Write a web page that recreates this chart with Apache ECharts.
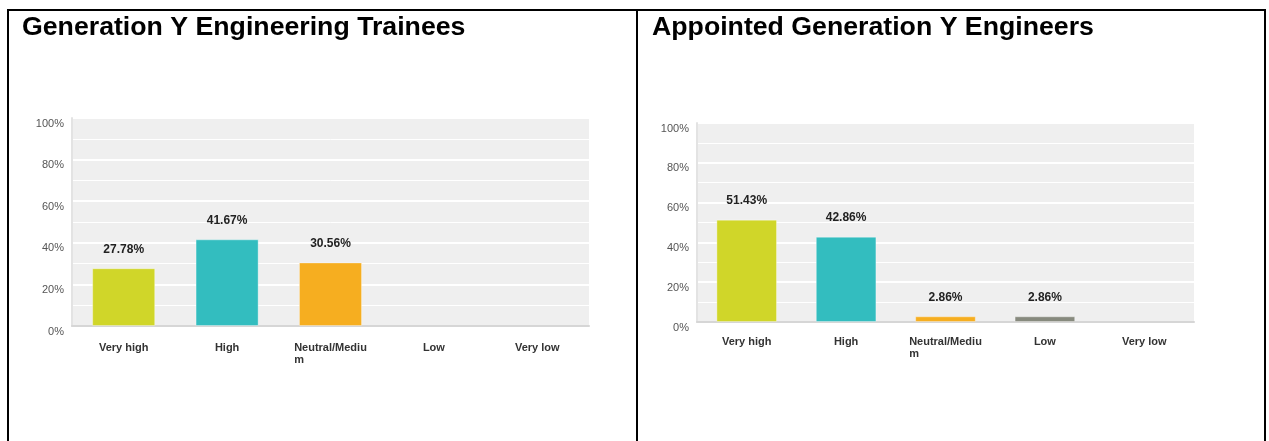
<!DOCTYPE html>
<html>
<head>
<meta charset="utf-8">
<script src="https://cdn.jsdelivr.net/npm/echarts@6/dist/echarts.min.js"></script>
<style>
  html, body { margin: 0; padding: 0; background: #fff; }
  #chart { width: 1269px; height: 441px; }
</style>
</head>
<body>
<div id="chart"></div>
<script>
// Survey response shares (%) per rating
const categories = ['Very high', 'High', 'Neutral/Mediu\nm', 'Low', 'Very low'];
const barColors = ['#d0d629', '#33bdbf', '#f6ae20', '#878a7e', '#8fc0e8'];
const traineesTitle = 'Generation Y Engineering Trainees';
const engineersTitle = 'Appointed Generation Y Engineers';
const traineesValues = [27.78, 41.67, 30.56, 0, 0];
const engineersValues = [51.43, 42.86, 2.86, 2.86, 0];

const FONT = '"Liberation Sans", Arial, sans-serif';

function barData(values) {
  return values.map((v, i) => ({
    value: v,
    itemStyle: {
      color: barColors[i],
      borderColor: 'rgba(255,255,255,0.35)',
      borderWidth: v > 0 ? 1 : 0
    }
  }));
}

function xAxis(gridIndex, margin) {
  return {
    type: 'category',
    gridIndex,
    data: categories,
    axisTick: { show: false },
    axisLine: { show: true, lineStyle: { color: '#d6d6d6', width: 2 } },
    axisLabel: {
      interval: 0,
      margin,
      fontFamily: FONT,
      formatter: (v) => v.split('\n').map(s => '{c|' + s + '}').join('\n'),
      rich: {
        c: { align: 'left', fontSize: 11, fontWeight: 'bold', color: '#333', lineHeight: 12, fontFamily: FONT }
      }
    }
  };
}

function yAxis(gridIndex) {
  return {
    type: 'value',
    gridIndex,
    min: 0,
    max: 100,
    interval: 20,
    axisTick: { show: false },
    axisLine: { show: true, lineStyle: { color: '#e3e3e3', width: 2 } },
    axisLabel: {
      formatter: '{value}%',
      fontSize: 11,
      color: '#555',
      margin: 8,
      verticalAlign: 'top',
      fontFamily: FONT
    },
    splitLine: { show: true, lineStyle: { color: '#ffffff', width: 2 } },
    minorTick: { show: false, splitNumber: 2 },
    minorSplitLine: { show: true, lineStyle: { color: '#ffffff', width: 1 } }
  };
}

function barSeries(values, idx) {
  return {
    type: 'bar',
    xAxisIndex: idx,
    yAxisIndex: idx,
    data: barData(values),
    barWidth: '61%',
    label: {
      show: true,
      position: 'top',
      distance: 13,
      fontSize: 12,
      fontWeight: 'bold',
      color: '#222',
      fontFamily: FONT,
      formatter: (p) => (p.value > 0 ? p.value.toFixed(2) + '%' : '')
    }
  };
}

const chart = echarts.init(document.getElementById('chart'), null, { renderer: 'canvas' });

chart.setOption({
  animation: false,
  backgroundColor: '#ffffff',
  textStyle: { fontFamily: FONT },
  title: [
    {
      text: traineesTitle, left: 22, top: 14, padding: 0,
      textStyle: { fontSize: 26.7, fontWeight: 'bold', color: '#000', fontFamily: FONT }
    },
    {
      text: engineersTitle, left: 652, top: 14, padding: 0,
      textStyle: { fontSize: 26.7, fontWeight: 'bold', color: '#000', fontFamily: FONT }
    }
  ],
  grid: [
    { left: 72, top: 118, width: 517, height: 208, show: true, backgroundColor: '#efefef', borderWidth: 0 },
    { left: 697, top: 123, width: 497, height: 199, show: true, backgroundColor: '#efefef', borderWidth: 0 }
  ],
  xAxis: [xAxis(0, 16), xAxis(1, 14)],
  yAxis: [yAxis(0), yAxis(1)],
  series: [barSeries(traineesValues, 0), barSeries(engineersValues, 1)],
  graphic: [
    // table frame around the two panels
    { type: 'line', shape: { x1: 8, y1: 9, x2: 8, y2: 441 }, style: { stroke: '#000', lineWidth: 2 } },
    { type: 'line', shape: { x1: 7, y1: 10, x2: 1266, y2: 10 }, style: { stroke: '#000', lineWidth: 2 } },
    { type: 'line', shape: { x1: 637, y1: 9, x2: 637, y2: 441 }, style: { stroke: '#000', lineWidth: 2 } },
    { type: 'line', shape: { x1: 1265, y1: 9, x2: 1265, y2: 441 }, style: { stroke: '#000', lineWidth: 2 } }
  ]
});
</script>
</body>
</html>
